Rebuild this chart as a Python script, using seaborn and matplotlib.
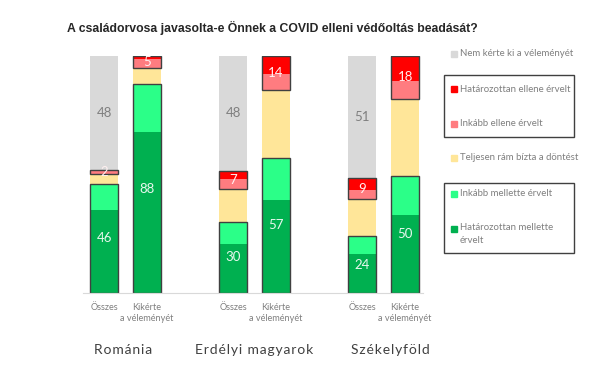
#stacked bar chart: COVID vaccine advice by family doctor
import pandas as pd
import numpy as np
from matplotlib import pyplot as plt
from matplotlib.patches import Rectangle
import seaborn as sns

#data (percent)
groups = ["Románia", "Erdélyi magyarok", "Székelyföld"]
subcats = ["Összes", "Kikérte\na véleményét"]
positions = [0, 1, 3, 4, 6, 7]

dark_green = [35, 68, 20.5, 39, 16.5, 33]
light_green = [11, 20, 9.5, 18, 7.5, 16.5]
yellow = [4, 7, 14, 28.5, 15.5, 32.5]
pink = [1.5, 3.5, 4, 7, 4, 7.5]
red = [0.5, 1.5, 3.5, 7.5, 5, 10.5]
gray = [48, 0, 48.5, 0, 51.5, 0]

green_labels = [46, 88, 30, 57, 24, 50]
red_labels = [2, 5, 7, 14, 9, 18]
gray_labels = [48, None, 48, None, 51, None]

series_names = ["Határozottan mellette érvelt", "Inkább mellette érvelt",
                "Teljesen rám bízta a döntést", "Inkább ellene érvelt",
                "Határozottan ellene érvelt", "Nem kérte ki a véleményét"]
colors = ['#00B050', '#2BFF88', '#FFE699', '#FF7C80', '#FF0000', '#D9D9D9']

sns.set_style("white")
plt.rcParams['font.family'] = ['Lato', 'DejaVu Sans']

df = pd.DataFrame({'pos': positions})
stack = [dark_green, light_green, yellow, pink, red, gray]
cum = np.cumsum(np.array(stack), axis=0)
for i, name in enumerate(series_names):
    df[name] = cum[i]

fig = plt.figure(figsize=(6.15, 3.85), dpi=100)
ax = fig.add_axes([0.135, 0.239, 0.553, 0.616])

#draw from the top segment down so lower segments overlay
for i in range(len(series_names) - 1, -1, -1):
    sns.barplot(data=df, x='pos', y=series_names[i], native_scale=True,
                color=colors[i], saturation=1, width=0.67, ax=ax,
                edgecolor='none', linewidth=0)

#outlines around the grouped blocks
green_top = cum[1]
yellow_top = cum[2]
red_top = cum[4]
ax.bar(positions, green_top, width=0.67, fill=False, edgecolor='#404040', linewidth=1)
ax.bar(positions, red_top - yellow_top, bottom=yellow_top, width=0.67, fill=False,
       edgecolor='#404040', linewidth=1)

#value labels
for p, gl, rl, gy, gt, yt, rt in zip(positions, green_labels, red_labels, gray_labels,
                                     green_top, yellow_top, red_top):
    ax.text(p, gt / 2, str(gl), ha='center', va='center', color='#E8F8EE', fontsize=9.5)
    ax.text(p, (yt + rt) / 2, str(rl), ha='center', va='center', color='#FFF0F0', fontsize=9.5)
    if gy is not None:
        ax.text(p, (rt + 100) / 2, str(gy), ha='center', va='center', color='#7F7F7F', fontsize=9.5)

ax.set_xlim(-0.49, 7.42)
ax.set_ylim(0, 100)
ax.set_xticks(positions)
ax.set_xticklabels(subcats * 3, fontsize=6.6, color='#7F7F7F', linespacing=1.35)
ax.tick_params(axis='x', length=0, pad=7)
ax.set_yticks([])
ax.set(xlabel='', ylabel='')
sns.despine(ax=ax, left=True)
ax.spines['bottom'].set_color('#D9D9D9')

#group labels with letter spacing
for g, c in zip(groups, [0.45, 3.5, 6.65]):
    spaced = '\u200a'.join(g)
    ax.text(c, -24, spaced, ha='center', va='center', fontsize=10, color='#404040',
            transform=ax.transData, clip_on=False)

fig.text(67 / 615, 1 - 28 / 385, "A családorvosa javasolta-e Önnek a COVID elleni védőoltás beadását?",
         fontsize=8.8, fontweight='bold', family=['Liberation Sans'], ha='left', va='center')

#legend drawn by hand
legend_items = [(54, 5), (89, 4), (124, 3), (158, 2), (194, 1), (229, 0)]
for y, i in legend_items:
    fig.patches.append(Rectangle((451 / 615, 1 - (y + 3) / 385), 6 / 615, 6 / 385,
                                 transform=fig.transFigure, color=colors[i]))
    if i == 0:
        fig.text(460 / 615, 1 - (y - 6) / 385, "Határozottan mellette\nérvelt",
                 fontsize=6.9, color='#7F7F7F', ha='left', va='top', linespacing=1.55)
    else:
        fig.text(460 / 615, 1 - y / 385, series_names[i], fontsize=6.9, color='#7F7F7F',
                 ha='left', va='center')
for y0, y1 in [(75, 137), (183, 253)]:
    fig.patches.append(Rectangle((444 / 615, 1 - y1 / 385), 130 / 615, (y1 - y0) / 385,
                                 transform=fig.transFigure, fill=False,
                                 edgecolor='#404040', linewidth=1))

fig.savefig('out.png', dpi=100)
